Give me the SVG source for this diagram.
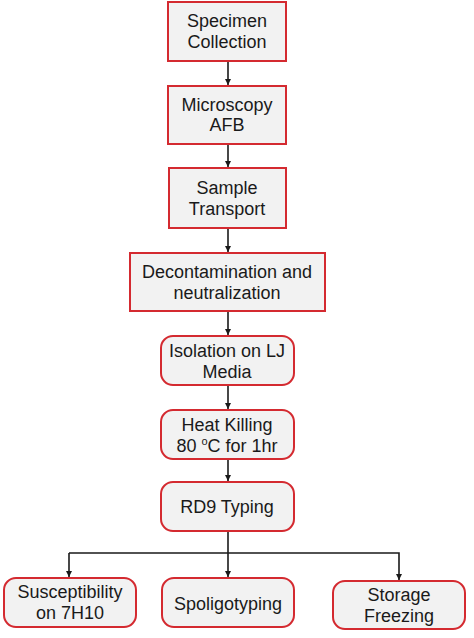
<svg xmlns="http://www.w3.org/2000/svg" width="474" height="638" viewBox="0 0 474 638">
<style>
.box{fill:#f2f2f2;stroke:#d42a30;stroke-width:2}
.t{font-family:"Liberation Sans",Arial,sans-serif;font-size:18px;fill:#1a1a1a;text-anchor:middle}
.c{fill:none;stroke:#1a1a1a;stroke-width:1.6}
</style>
<defs>
<marker id="ah" markerWidth="7" markerHeight="6" refX="6" refY="3" orient="auto" markerUnits="userSpaceOnUse">
<path d="M0,0 L6,3 L0,6 Z" fill="#1a1a1a"/>
</marker>
</defs>
<rect width="474" height="638" fill="#fff"/>
<g id="connectors">
<line class="c" x1="228" y1="61" x2="228" y2="85" marker-end="url(#ah)"/>
<line class="c" x1="228" y1="144" x2="228" y2="167" marker-end="url(#ah)"/>
<line class="c" x1="228" y1="228" x2="228" y2="252" marker-end="url(#ah)"/>
<line class="c" x1="228" y1="311" x2="228" y2="335" marker-end="url(#ah)"/>
<line class="c" x1="228" y1="385" x2="228" y2="409" marker-end="url(#ah)"/>
<line class="c" x1="228" y1="459" x2="228" y2="481" marker-end="url(#ah)"/>
<line class="c" x1="228" y1="531" x2="228" y2="577" marker-end="url(#ah)"/>
<polyline class="c" points="69,553 399,553 399,580" marker-end="url(#ah)"/>
<line class="c" x1="69" y1="553" x2="69" y2="577" marker-end="url(#ah)"/>
</g>
<g id="n1"><rect class="box" x="168" y="2" width="118" height="59"/><text class="t" x="227" y="27">Specimen</text><text class="t" x="227" y="48">Collection</text></g>
<g id="n2"><rect class="box" x="168" y="86" width="118" height="58"/><text class="t" x="227" y="111">Microscopy</text><text class="t" x="227" y="131">AFB</text></g>
<g id="n3"><rect class="box" x="169" y="168" width="117" height="60"/><text class="t" x="227" y="194">Sample</text><text class="t" x="227" y="215">Transport</text></g>
<g id="n4"><rect class="box" x="130" y="253" width="195" height="58"/><text class="t" x="227" y="278">Decontamination and</text><text class="t" x="227" y="299">neutralization</text></g>
<g id="n5"><rect class="box" x="161" y="336" width="133" height="49" rx="12"/><text class="t" x="227" y="357">Isolation on LJ</text><text class="t" x="227" y="378">Media</text></g>
<g id="n6"><rect class="box" x="161" y="410" width="133" height="49" rx="12"/><text class="t" x="227" y="431">Heat Killing</text><text class="t" x="227" y="452">80 <tspan font-size="11" dy="-7">o</tspan><tspan dy="7">C for 1hr</tspan></text></g>
<g id="n7"><rect class="box" x="161" y="482" width="133" height="49" rx="12"/><text class="t" x="227" y="513">RD9 Typing</text></g>
<g id="n8"><rect class="box" x="4" y="578" width="132" height="49" rx="12"/><text class="t" x="70" y="598">Susceptibility</text><text class="t" x="70" y="619">on 7H10</text></g>
<g id="n9"><rect class="box" x="162" y="578" width="132" height="49" rx="12"/><text class="t" x="228" y="610">Spoligotyping</text></g>
<g id="n10"><rect class="box" x="333" y="581" width="132" height="48" rx="12"/><text class="t" x="399" y="601">Storage</text><text class="t" x="399" y="622">Freezing</text></g>
</svg>
